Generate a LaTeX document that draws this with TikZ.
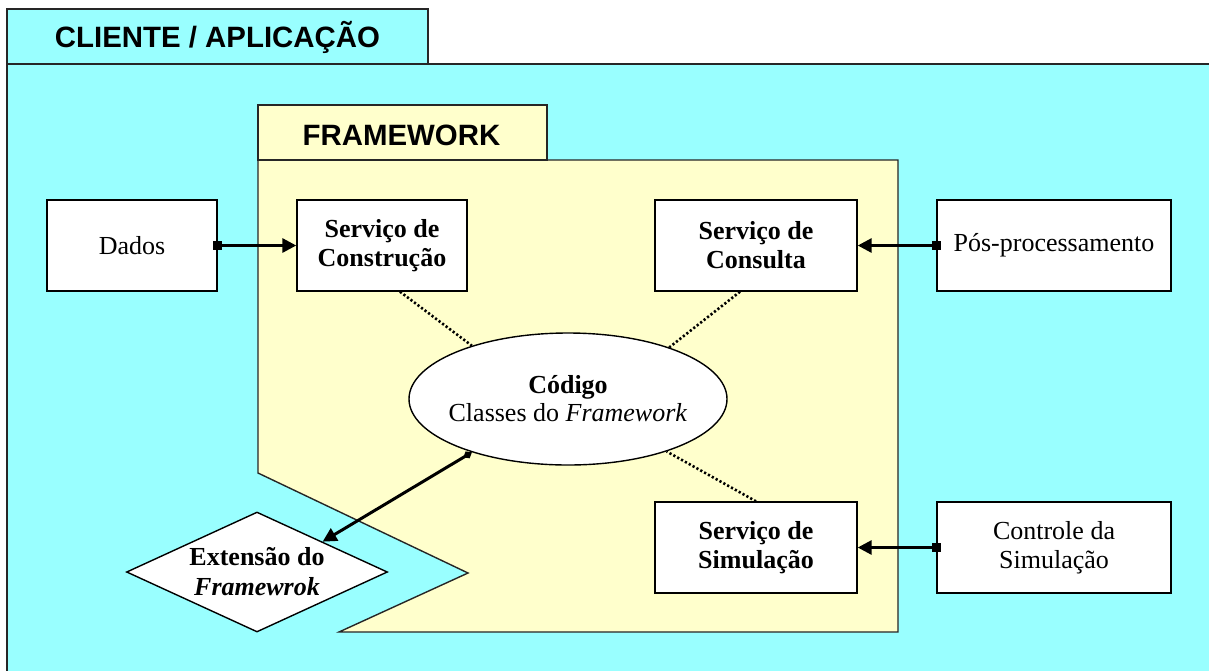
\documentclass[tikz,border=0pt]{standalone}
\usepackage{fontspec}
\setmainfont{Liberation Serif}
\setsansfont{Liberation Sans}
\usetikzlibrary{arrows.meta,shapes.geometric}
\definecolor{cyanbg}{HTML}{99FFFF}
\definecolor{yellowbg}{HTML}{FFFFCC}
\begin{document}
\begin{tikzpicture}[x=0.5pt,y=-0.5pt,
  frame/.style={draw=black!85,line width=0.7pt},
  hdr/.style={font=\sffamily\bfseries\fontsize{14.7}{17}\selectfont,anchor=base,inner sep=0pt},
  box/.style={draw=black,fill=white,line width=0.7pt,minimum height=45.5pt,inner sep=2pt,align=center,font=\fontsize{13}{14.5}\selectfont},
  bbox/.style={box,font=\bfseries\fontsize{13}{14.5}\selectfont},
  conn/.style={line width=1.5pt,{Square[length=4.5pt,width=4.5pt]}-{Triangle[length=7pt,width=7pt]},shorten <=-2.25pt},
  dotline/.style={line width=1.3pt,dash pattern=on 1.1pt off 1.1pt},
  ]
\useasboundingbox (0,0) rectangle (1209,670);
\clip (0,0) rectangle (1209,670);
\fill[white] (0,0) rectangle (1209,670);
% client area
\draw[frame,fill=cyanbg] (7,64) rectangle (1240,700);
\draw[frame,fill=cyanbg] (7,9) rectangle (428,64);
\node[hdr] (cli) at (217.5,47) {CLIENTE / APLICAÇÃO};
% framework area
\draw[frame,fill=yellowbg] (258,160) -- (898,160) -- (898,632) -- (339,632) -- (468,573) -- (258,473) -- cycle;
\draw[frame,fill=yellowbg] (258,105) rectangle (547,160);
\node[hdr] (fw) at (401.5,145) {FRAMEWORK};
% boxes
\node[box,minimum width=85pt] (dados) at (132,245.5) {Dados};
\node[bbox,minimum width=85pt] (constr) at (382,245.5) {Serviço de\\Construção};
\node[bbox,minimum width=101pt] (consulta) at (756,245.5) {Serviço de\\Consulta};
\node[box,minimum width=117pt] (pos) at (1054,245.5) {Pós-processamento};
\node[bbox,minimum width=101pt] (simul) at (756,547.5) {Serviço de\\Simulação};
\node[box,minimum width=117pt] (ctrl) at (1054,547.5) {Controle da\\Simulação};
\node[ellipse,draw=black,fill=white,line width=0.7pt,minimum width=159pt,minimum height=66pt,inner sep=0pt] (cod) at (568,399) {};
\node[align=center,inner sep=0pt,font=\fontsize{13}{14}\selectfont] (codtxt) at (cod.center) {\textbf{Código}\\Classes do \textit{Framework}};
\node[diamond,draw=black,fill=white,line width=0.7pt,aspect=2.175,minimum width=130.5pt,minimum height=60pt,inner sep=0pt,align=center,font=\bfseries\fontsize{13}{15}\selectfont] (ext) at (257,572) {Extensão do\\\textit{Framewrok}};
% connectors
\draw[conn] (dados) -- (constr);
\draw[conn] (pos) -- (consulta);
\draw[conn] (ctrl) -- (simul);
\draw[line width=1.5pt,{Diamond[length=5pt,width=4pt]}-{Triangle[length=7pt,width=7pt]}] (cod.209) -- (ext.north east);
\draw[dotline] ([xshift=9pt]constr.south) -- (cod.151);
\draw[dotline] ([xshift=-8pt]consulta.south) -- (cod.27);
\draw[dotline] (simul.north) -- (cod.332);
\end{tikzpicture}
\end{document}
